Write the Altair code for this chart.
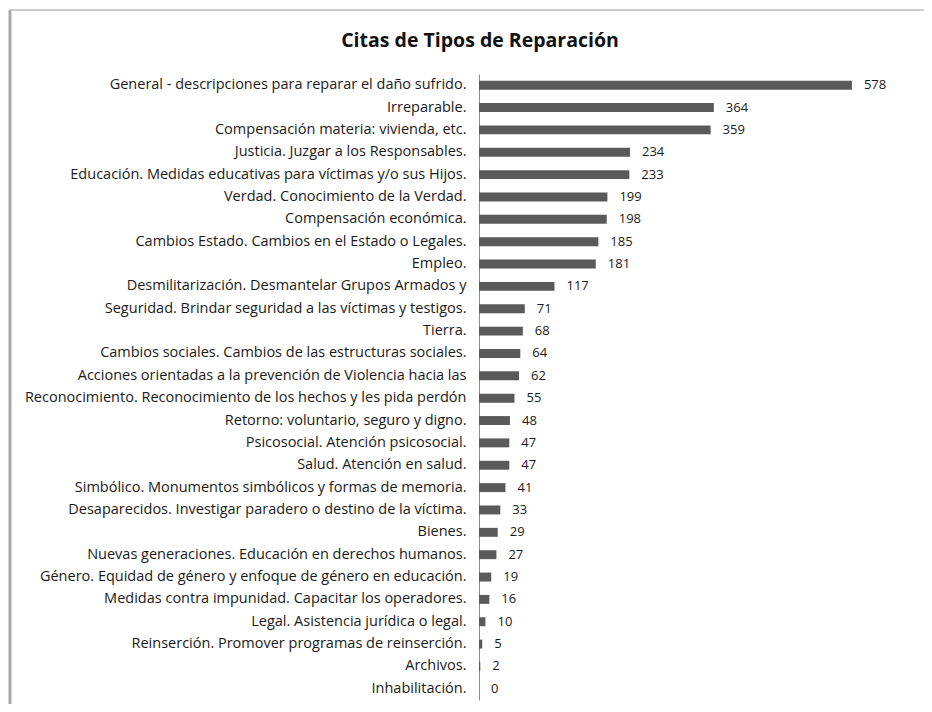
import altair as alt
import pandas as pd

categories = [
    "General - descripciones para reparar el daño sufrido.",
    "Irreparable.",
    "Compensación materia: vivienda, etc.",
    "Justicia. Juzgar a los Responsables.",
    "Educación. Medidas educativas para víctimas y/o sus Hijos.",
    "Verdad. Conocimiento de la Verdad.",
    "Compensación económica.",
    "Cambios Estado. Cambios en el Estado o Legales.",
    "Empleo.",
    "Desmilitarización. Desmantelar Grupos Armados y",
    "Seguridad. Brindar seguridad a las víctimas y testigos.",
    "Tierra.",
    "Cambios sociales. Cambios de las estructuras sociales.",
    "Acciones orientadas a la prevención de Violencia hacia las",
    "Reconocimiento. Reconocimiento de los hechos y les pida perdón",
    "Retorno: voluntario, seguro y digno.",
    "Psicosocial. Atención psicosocial.",
    "Salud. Atención en salud.",
    "Simbólico. Monumentos simbólicos y formas de memoria.",
    "Desaparecidos. Investigar paradero o destino de la víctima.",
    "Bienes.",
    "Nuevas generaciones. Educación en derechos humanos.",
    "Género. Equidad de género y enfoque de género en educación.",
    "Medidas contra impunidad. Capacitar los operadores.",
    "Legal. Asistencia jurídica o legal.",
    "Reinserción. Promover programas de reinserción.",
    "Archivos.",
    "Inhabilitación.",
]
values = [578, 364, 359, 234, 233, 199, 198, 185, 181, 117, 71, 68, 64, 62,
          55, 48, 47, 47, 41, 33, 29, 27, 19, 16, 10, 5, 2, 0]
title_text = "Citas de Tipos de Reparación"

df = pd.DataFrame({"cat": categories, "val": values})

FONT = "Open Sans"
W, H = 400, 626

y_enc = alt.Y("cat:N", sort=categories, title=None,
              scale=alt.Scale(paddingInner=0.6, paddingOuter=0.3),
              axis=alt.Axis(ticks=False, labelPadding=13, labelFontSize=14.5,
                            labelFont=FONT, labelColor="#1a1a1a", labelLimit=470,
                            domainColor="#8c8c8c", domainWidth=1))
x_enc = alt.X("val:Q", scale=alt.Scale(domain=[0, 620]), axis=None)

bars = alt.Chart(df).mark_bar(color="#5a5a5a").encode(x=x_enc, y=y_enc)
labels = alt.Chart(df).mark_text(align="left", dx=12, font=FONT, fontSize=13,
                                 color="#1a1a1a").encode(x=x_enc, y=y_enc, text="val:Q")

title = alt.Chart(pd.DataFrame({"t": [title_text]})).mark_text(
    font=FONT, fontSize=19.5, fontWeight="bold", color="#111111", align="center",
    baseline="middle").encode(x=alt.value(1), y=alt.value(-33), text="t:N")

left_border = alt.Chart(pd.DataFrame({"a": [0]})).mark_rule(
    color="#a8a8a8", strokeWidth=3).encode(x=alt.value(-469), y=alt.value(-64), y2=alt.value(H + 10))
top_border = alt.Chart(pd.DataFrame({"a": [0]})).mark_rule(
    color="#bdbdbd", strokeWidth=1.5).encode(x=alt.value(-470), x2=alt.value(W + 45), y=alt.value(-64))

chart = alt.layer(left_border, top_border, bars, labels, title).properties(
    width=W, height=H,
    background="white",
    autosize=alt.AutoSizeParams(type="none"),
    padding={"left": 471, "top": 66, "right": 45, "bottom": 4},
).configure_view(stroke=None)

chart.save("out.html", embed_options={"renderer": "svg", "actions": False})
